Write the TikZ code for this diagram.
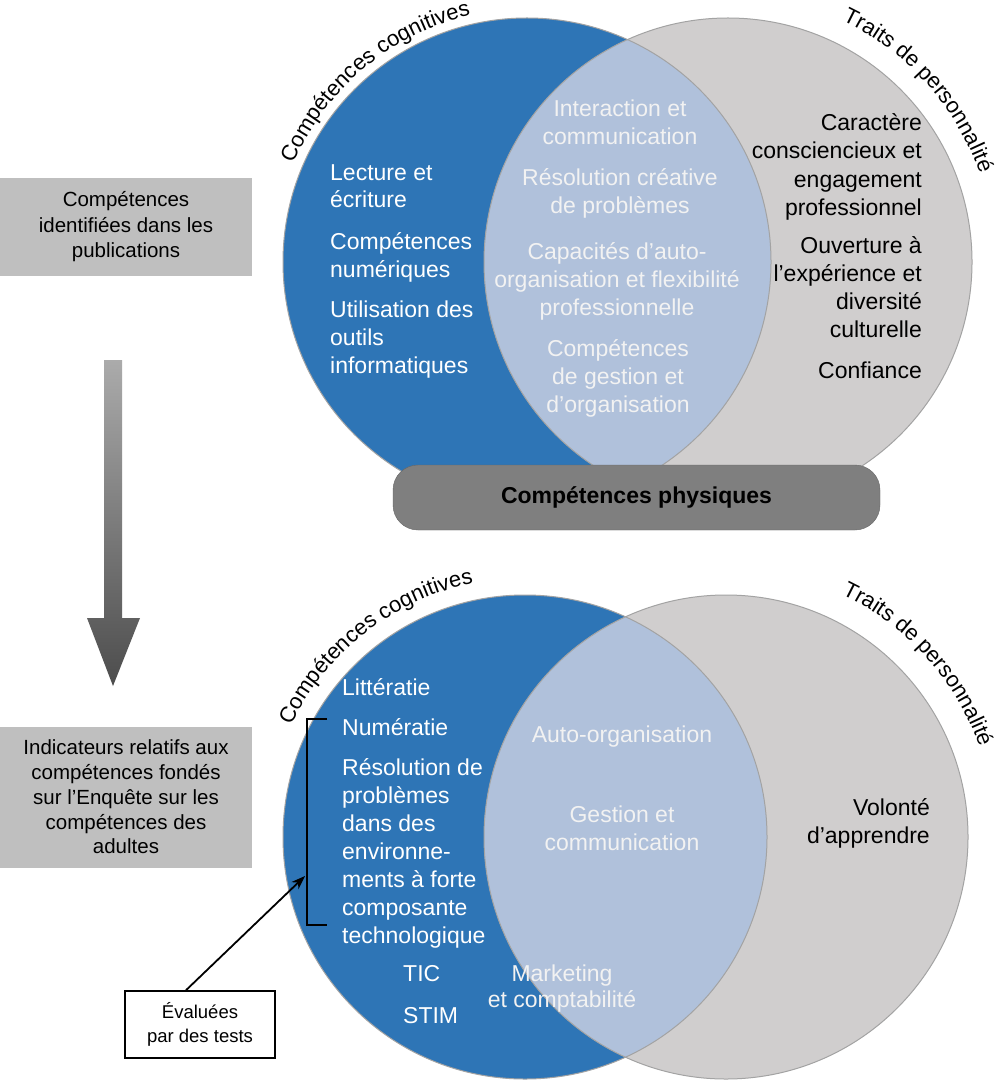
\documentclass[tikz,border=0pt]{standalone}
\usepackage{fontspec}
\setmainfont{Liberation Sans}
\usetikzlibrary{decorations.text,arrows.meta,calc}
\definecolor{cblue}{HTML}{2E75B6}
\definecolor{clens}{HTML}{B0C1DB}
\definecolor{cgray}{HTML}{D0CECE}
\definecolor{cedge}{HTML}{A3A3A3}
\definecolor{cbox}{HTML}{BFBFBF}
\definecolor{cphys}{HTML}{7F7F7F}
\definecolor{clight}{HTML}{F2F2F2}
\begin{document}
\begin{tikzpicture}[x=1pt,y=1pt,
  body/.style={font=\fontsize{23}{28}\selectfont, inner sep=0pt},
  wl/.style={body, text=white, align=left, anchor=base west},
  ln/.style={body, text=clight, align=center, anchor=base},
  rt/.style={body, text=black, align=right, anchor=base east},
  sidebox/.style={fill=cbox, inner sep=0pt, minimum width=252pt, align=center},
  ring/.style={draw=cedge, line width=1pt},
  arctext/.style={decorate, decoration={text along path, text align=center, text={|\fontsize{22}{22}\selectfont|#1}}}
]
\useasboundingbox (0,0) rectangle (1000,-1083);
\fill[white] (0,0) rectangle (1000,-1083);

% ---------- top Venn ----------
\coordinate (c1) at (527,-262);
\coordinate (c2) at (728,-262);
\fill[cblue] (c1) circle (244);
\fill[cgray] (c2) circle (244);
\begin{scope}
  \clip (c1) circle (244);
  \fill[clens] (c2) circle (244);
\end{scope}
\draw[ring] (c1) circle (244);
\draw[ring] (c2) circle (244);

\path[arctext={Compétences cognitives}] ($(c1)+(165:253)$) arc[start angle=165, end angle=95, radius=253];
\path[arctext={Traits de personnalité}] ($(c2)+(78:267)$) arc[start angle=78, end angle=6, radius=267];

% multi-line nodes: base anchor = baseline of the last line
\node[wl] (l1) at (330,-208) {Lecture et\\écriture};
\node[wl] (l2) at (330,-277) {Compétences\\numériques};
\node[wl] (l3) at (330,-373) {Utilisation des\\outils\\informatiques};

\node[ln] (m1) at (620,-145) {Interaction et\\communication};
\node[ln] (m2) at (620,-214) {Résolution créative\\de problèmes};
\node[ln] (m3) at (617,-315) {Capacités d’auto-\\organisation et flexibilité\\professionnelle};
\node[ln] (m4) at (618,-412) {Compétences\\de gestion et\\d’organisation};

\node[rt] (r1) at (922,-215) {Caractère\\consciencieux et\\engagement\\professionnel};
\node[rt] (r2) at (922,-337) {Ouverture à\\l’expérience et\\diversité\\culturelle};
\node[rt] (r3) at (922,-378) {Confiance};

\node[fill=cphys, draw=black!60, rounded corners=25pt, minimum width=487pt, minimum height=65pt, inner sep=0pt,
      font=\fontsize{23}{28}\selectfont\bfseries] (phys) at (636.5,-497.5) {Compétences physiques};

% ---------- left column ----------
\node[sidebox, minimum height=98pt, font=\fontsize{20.5}{25.5}\selectfont] (box1) at (126,-227) {Compétences\\identifiées dans les\\publications};
\node[sidebox, minimum height=141pt, font=\fontsize{20.5}{24.7}\selectfont] (box2) at (126,-797) {Indicateurs relatifs aux\\compétences fondés\\sur l’Enquête sur les\\compétences des\\adultes};

\shade[top color=black!33, bottom color=black!70]
  (104,-360) -- (122,-360) -- (122,-618) -- (140,-618) -- (113,-686) -- (87,-618) -- (104,-618) -- cycle;

% ---------- bottom Venn ----------
\coordinate (c3) at (525,-837);
\coordinate (c4) at (726,-837);
\fill[cblue] (c3) circle (242);
\fill[cgray] (c4) circle (242);
\begin{scope}
  \clip (c3) circle (242);
  \fill[clens] (c4) circle (242);
\end{scope}
\draw[ring] (c3) circle (242);
\draw[ring] (c4) circle (242);

\path[arctext={Compétences cognitives}] ($(c3)+(163:259)$) arc[start angle=163, end angle=93, radius=259];
\path[arctext={Traits de personnalité}] ($(c4)+(78:269)$) arc[start angle=78, end angle=6, radius=269];

\node[wl] (b1) at (342,-695) {Littératie};
\node[wl] (b2) at (342,-735) {Numératie};
\node[wl] (b3) at (342,-943) {Résolution de\\problèmes\\dans des\\environne-\\ments à forte\\composante\\technologique};
\node[wl] (b4) at (403,-981) {TIC};
\node[wl] (b5) at (403,-1023) {STIM};

\node[ln] (n1) at (622,-742) {Auto-organisation};
\node[ln] (n2) at (622,-850) {Gestion et\\communication};
\node[ln, font=\fontsize{23}{26}\selectfont] (n3) at (562,-1007) {Marketing\\et comptabilité};

\node[rt] (s1) at (930,-843) {Volonté\\d’apprendre};

% bracket and test arrow
\draw[line width=2pt] (327,-719) -- (307,-719) -- (307,-925) -- (327,-925);
\coordinate (brk) at (305,-876);
\node[draw=black, line width=1.6pt, fill=white, minimum width=150pt, minimum height=67pt, inner sep=0pt,
      align=center, font=\fontsize{18.5}{24}\selectfont] (ev) at (200,-1024.5) {Évaluées\\par des tests};
\draw[line width=1.8pt, -{Stealth[length=14pt,width=10pt]}] ([xshift=-14pt]ev.north) -- (brk);
\end{tikzpicture}
\end{document}
